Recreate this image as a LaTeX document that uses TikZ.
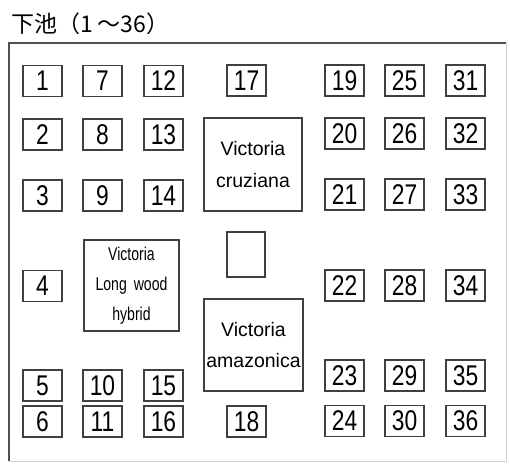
\documentclass[tikz,border=0pt]{standalone}
\usepackage{fontspec}
\setmainfont{Liberation Sans}
\newfontfamily\jpfont{Noto Sans CJK JP}
\newfontfamily\numfont[FakeStretch=0.8]{Liberation Sans}
\newfontfamily\condfont[FakeStretch=0.76]{Liberation Sans}
\definecolor{boxline}{HTML}{404040}
\definecolor{frameline}{HTML}{505050}
\definecolor{lightframe}{HTML}{D0D0D0}
\begin{document}
\begin{tikzpicture}[x=1pt,y=-1pt,
  nb/.style={draw=boxline,line width=1.3pt,minimum width=39pt,minimum height=31pt,inner sep=0pt,
    font=\numfont\fontsize{28.5pt}{28.5pt}\selectfont,text=black},
  bigbox/.style={draw=boxline,line width=1.3pt,inner sep=0pt,align=center,text=black},
  emptybox/.style={draw=boxline,line width=1.3pt,inner sep=0pt,minimum width=38pt,minimum height=45pt}]
\useasboundingbox (0,0) rectangle (510,464);
% title
\node[anchor=base west,inner sep=0pt,font=\jpfont\fontsize{23pt}{23pt}\selectfont,text=black] (title) at (11,32.5) {下池（1\hspace{5pt}～36）};
% frame
\coordinate (ftl) at (9,43);
\coordinate (ftr) at (506,43);
\coordinate (fbl) at (9,461);
\coordinate (fbr) at (506,461);
\draw[lightframe,line width=1pt] (ftr) -- (fbr) -- (fbl);
\draw[frameline,line width=1.4pt] (fbl) -- (ftl) -- (ftr);
% left columns
\node[nb] (n1) at (42.5,81) {1};
\node[nb] (n2) at (42.5,134.5) {2};
\node[nb] (n3) at (42.5,195.5) {3};
\node[nb] (n4) at (42.5,286) {4};
\node[nb] (n5) at (42.5,385.5) {5};
\node[nb] (n6) at (42.5,421.5) {6};
\node[nb] (n7) at (102.5,81) {7};
\node[nb] (n8) at (102.5,134.5) {8};
\node[nb] (n9) at (102.5,195.5) {9};
\node[nb] (n10) at (102.5,385.5) {10};
\node[nb] (n11) at (102.5,421.5) {11};
\node[nb] (n12) at (163.5,81) {12};
\node[nb] (n13) at (163.5,134.5) {13};
\node[nb] (n14) at (163.5,195.5) {14};
\node[nb] (n15) at (163.5,385.5) {15};
\node[nb] (n16) at (163.5,421.5) {16};
\node[nb] (n17) at (246.5,80.5) {17};
\node[nb] (n18) at (246.5,421.5) {18};
% right columns
\node[nb] (n19) at (344.5,80.5) {19};
\node[nb] (n20) at (344.5,133.5) {20};
\node[nb] (n21) at (344.5,194.5) {21};
\node[nb] (n22) at (344.5,285.5) {22};
\node[nb] (n23) at (344.5,375.5) {23};
\node[nb] (n24) at (344.5,421) {24};
\node[nb] (n25) at (404.5,80.5) {25};
\node[nb] (n26) at (404.5,133.5) {26};
\node[nb] (n27) at (404.5,194.5) {27};
\node[nb] (n28) at (404.5,285.5) {28};
\node[nb] (n29) at (404.5,375.5) {29};
\node[nb] (n30) at (404.5,421) {30};
\node[nb] (n31) at (465.5,80.5) {31};
\node[nb] (n32) at (465.5,133.5) {32};
\node[nb] (n33) at (465.5,194.5) {33};
\node[nb] (n34) at (465.5,285.5) {34};
\node[nb] (n35) at (465.5,375.5) {35};
\node[nb] (n36) at (465.5,421) {36};
% big boxes
\node[bigbox,minimum width=98pt,minimum height=93pt,font=\fontsize{19.5pt}{32pt}\selectfont] (cruz) at (253,164.5) {Victoria\\cruziana};
\node[emptybox] (mid) at (246,254.5) {};
\node[bigbox,minimum width=99pt,minimum height=92pt,font=\fontsize{19.5pt}{31pt}\selectfont] (amaz) at (253.5,345) {Victoria\\amazonica};
\node[bigbox,minimum width=95pt,minimum height=91pt,font=\condfont\fontsize{18.5pt}{30pt}\selectfont] (long) at (131.5,285.5) {Victoria\\Long\hspace{7pt}wood\\hybrid};
\end{tikzpicture}
\end{document}
